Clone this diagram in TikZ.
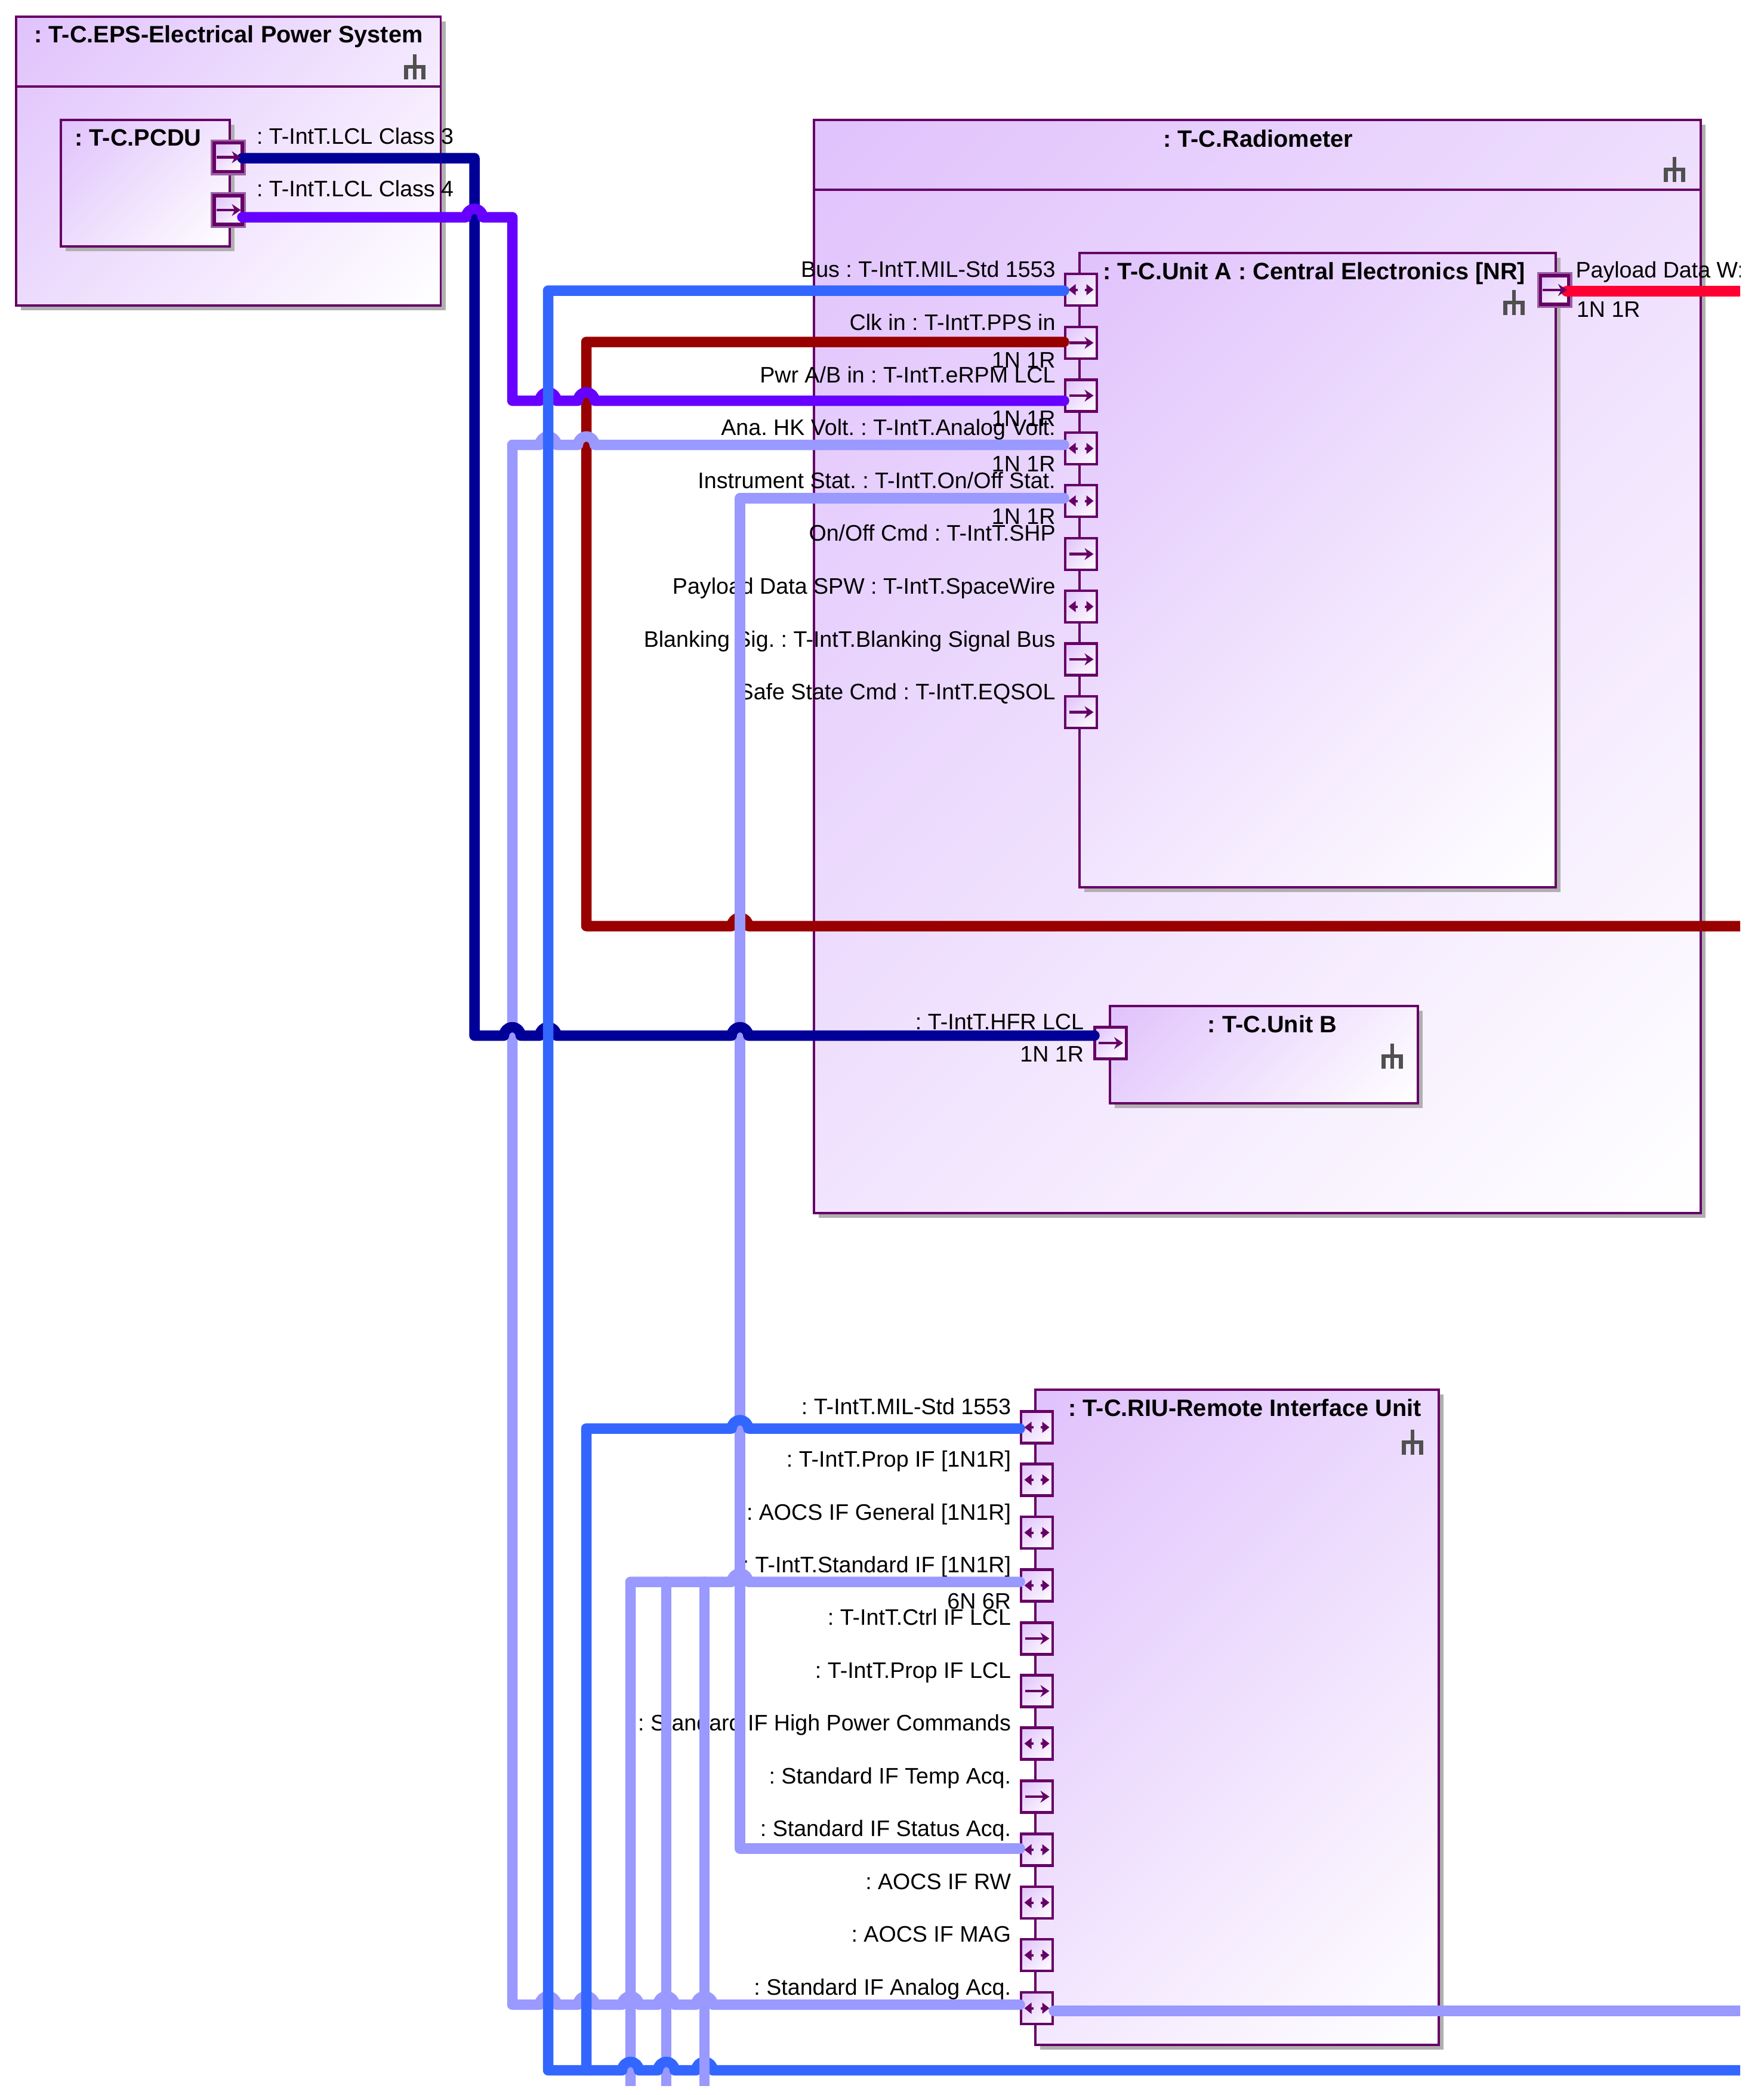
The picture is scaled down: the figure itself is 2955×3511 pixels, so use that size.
\documentclass[tikz,border=0pt]{standalone}
\usepackage{fontspec}
\setmainfont{Liberation Sans}
\usetikzlibrary{arrows.meta,calc}
\definecolor{gA}{HTML}{E0C2FC}
\definecolor{gB}{HTML}{FFFFFF}
\definecolor{edgeC}{HTML}{660066}
\definecolor{haloC}{HTML}{9A62A2}
\definecolor{shadowC}{HTML}{B0B0B0}
\definecolor{forkC}{HTML}{505050}
\definecolor{cDark}{HTML}{000099}
\definecolor{cViolet}{HTML}{6600FF}
\definecolor{cBlue}{HTML}{3366FF}
\definecolor{cLight}{HTML}{9999FF}
\definecolor{cRed}{HTML}{990000}
\definecolor{cPay}{HTML}{FF0033}
\pgfdeclarehorizontalshading{diaggrad}{100bp}{color(0bp)=(gA); color(32.32bp)=(gA); color(67.68bp)=(gB); color(100bp)=(gB)}
\tikzset{
  boxframe/.style={rectangle,draw=edgeC,line width=3.5pt,inner sep=0pt,outer sep=0pt},
  portframe/.style={rectangle,draw=edgeC,line width=4.5pt,inner sep=0pt,outer sep=0pt},
  portthick/.style={rectangle,draw=edgeC,line width=5.5pt,inner sep=0pt,outer sep=0pt},
  lbl/.style={font=\fontsize{37.6}{40}\selectfont,text=black,inner sep=0pt,outer sep=0pt},
  ttl/.style={font=\fontsize{39.7}{42}\selectfont\bfseries,text=black,inner sep=0pt,outer sep=0pt,anchor=base},
  wire/.style={line width=17.5pt,line cap=round,line join=round},
  parrow/.style={draw=edgeC,line width=4.5pt,-{Stealth[length=15pt,width=20pt,inset=5pt]}},
  pdouble/.style={draw=edgeC,line width=4pt,-{Stealth[length=12pt,width=18pt,inset=0pt]}},
  forkicon/.pic={
    \fill[forkC] (15,0) rectangle (20.5,42);
    \fill[forkC] (0,18) rectangle (35.5,24);
    \fill[forkC] (0,18) rectangle (6.5,42);
    \fill[forkC] (29,18) rectangle (35.5,42);
  }
}
\newcommand\gboxdraw[6]{%
  \pgfmathsetmacro\gbW{(#4)-(#2)}%
  \pgfmathsetmacro\gbH{(#5)-(#3)}%
  \pgfmathsetmacro\gbX{((#4)+(#2))/2}%
  \pgfmathsetmacro\gbY{((#5)+(#3))/2}%
  \pgfmathsetmacro\gbS{(\gbW+\gbH)/2}%
  \begin{scope}
    \clip (#2,#3) rectangle (#4,#5);
    \shade[shading=diaggrad,shading angle=-45] (\gbX-\gbS,\gbY-\gbS) rectangle (\gbX+\gbS,\gbY+\gbS);
  \end{scope}
  \node[#6,minimum width=\gbW pt,minimum height=\gbH pt] (#1) at (\gbX,\gbY) {};%
}
\newcommand\shadowrect[4]{\fill[shadowC] (#1+8,#2+8) rectangle (#3+8,#4+8);}
\newcommand\pport[3]{\gboxdraw{#1}{#2-26.5}{#3-26.5}{#2+26.5}{#3+26.5}{portframe}}
\newcommand\hport[3]{%
  \fill[haloC] (#2-29.5,#3-30) rectangle (#2+29.5,#3+30);
  \gboxdraw{#1}{#2-23.5}{#3-24}{#2+23.5}{#3+24}{portthick}}
\newcommand\arrR[1]{\draw[parrow] ([xshift=-20pt]#1.center) -- ([xshift=21pt]#1.center);}
\newcommand\arrB[1]{%
  \draw[pdouble] ([xshift=6pt]#1.center) -- ([xshift=21pt]#1.center);
  \draw[pdouble] ([xshift=-6pt]#1.center) -- ([xshift=-21pt]#1.center);}
\newcommand\hr[2]{-- (#1-14,#2) arc[start angle=180,end angle=360,radius=14]}
\newcommand\hl[2]{-- (#1+14,#2) arc[start angle=0,end angle=-180,radius=14]}
\begin{document}
\frenchspacing
\begin{tikzpicture}[x=1pt,y=-1pt]
\useasboundingbox (0,0) rectangle (2955,3511);
\fill[white] (0,0) rectangle (2955,3511);
\begin{scope}
\clip (0,0) rectangle (2916,3495.7);

% ---- boxes
\shadowrect{27}{28}{738.5}{512}
\gboxdraw{eps}{27}{28}{738.5}{512}{boxframe}
\draw[edgeC,line width=3.5pt] (eps.west |- 0,145) -- (eps.east |- 0,145);
\shadowrect{102}{201}{385}{413}
\gboxdraw{pcdu}{102}{201}{385}{413}{boxframe}

\shadowrect{1364}{201}{2850}{2033}
\gboxdraw{radio}{1364}{201}{2850}{2033}{boxframe}
\draw[edgeC,line width=3.5pt] (radio.west |- 0,318) -- (radio.east |- 0,318);
\shadowrect{1809}{424}{2607}{1487}
\gboxdraw{unitA}{1809}{424}{2607}{1487}{boxframe}
\shadowrect{1860}{1686}{2376}{1849}
\gboxdraw{unitB}{1860}{1686}{2376}{1849}{boxframe}
\shadowrect{1735}{2329}{2411}{3427}
\gboxdraw{riu}{1735}{2329}{2411}{3427}{boxframe}

% ---- fork icons
\pic at (677,91) {forkicon};
\pic at (2788,263) {forkicon};
\pic at (2519,486) {forkicon};
\pic at (2315,1749) {forkicon};
\pic at (2349,2396) {forkicon};

% ---- titles
\node[ttl] (tEps) at (383,72) {: T-C.EPS-Electrical Power System};
\node[ttl] (tPcdu) at (231.5,244) {: T-C.PCDU};
\node[ttl] (tRadio) at (2108,246) {: T-C.Radiometer};
\node[ttl] (tA) at (2202,468) {: T-C.Unit A : Central Electronics [NR]};
\node[ttl] (tB) at (2132,1730) {: T-C.Unit B};
\node[ttl] (tRiu) at (2086,2373) {: T-C.RIU-Remote Interface Unit};

% ---- ports
\hport{pP1}{382.5}{263.5}
\hport{pP2}{382.5}{352}
\hport{pPay}{2605}{486}
\pport{pA1}{1811.5}{485.5}
\pport{pA2}{1811.5}{574.5}
\pport{pA3}{1811.5}{663}
\pport{pA4}{1811.5}{751.5}
\pport{pA5}{1811.5}{839.5}
\pport{pA6}{1811.5}{928.5}
\pport{pA7}{1811.5}{1016.5}
\pport{pA8}{1811.5}{1105}
\pport{pA9}{1811.5}{1193.5}
\pport{pB}{1861}{1748}
\pport{pR1}{1737.5}{2392}
\pport{pR2}{1737.5}{2480}
\pport{pR3}{1737.5}{2568.5}
\pport{pR4}{1737.5}{2657}
\pport{pR5}{1737.5}{2746}
\pport{pR6}{1737.5}{2834}
\pport{pR7}{1737.5}{2922}
\pport{pR8}{1737.5}{3011}
\pport{pR9}{1737.5}{3100}
\pport{pR10}{1737.5}{3188.5}
\pport{pR11}{1737.5}{3276.5}
\pport{pR12}{1737.5}{3365.5}

% ---- port labels
\node[lbl,anchor=base west] (lP1) at (430,241) {: T-IntT.LCL Class 3};
\node[lbl,anchor=base west] (lP2) at (430,329) {: T-IntT.LCL Class 4};
\node[lbl,anchor=base west] (lPay) at (2640.5,465) {Payload Data W:};
\node[lbl,anchor=base west] (mPay) at (2642,531) {1N 1R};
\node[lbl,anchor=base east] (lA1) at (1768.5,464) {Bus : T-IntT.MIL-Std 1553};
\node[lbl,anchor=base east] (lA2) at (1768.5,553) {Clk in : T-IntT.PPS in};
\node[lbl,anchor=base east] (lA3) at (1768.5,641) {Pwr A/B in : T-IntT.eRPM LCL};
\node[lbl,anchor=base east] (lA4) at (1768.5,729) {Ana. HK Volt. : T-IntT.Analog Volt.};
\node[lbl,anchor=base east] (lA5) at (1768.5,818) {Instrument Stat. : T-IntT.On/Off Stat.};
\node[lbl,anchor=base east] (lA6) at (1768.5,906) {On/Off Cmd : T-IntT.SHP};
\node[lbl,anchor=base east] (lA7) at (1768.5,995) {Payload Data SPW : T-IntT.SpaceWire};
\node[lbl,anchor=base east] (lA8) at (1768.5,1084) {Blanking Sig. : T-IntT.Blanking Signal Bus};
\node[lbl,anchor=base east] (lA9) at (1768.5,1172) {Safe State Cmd : T-IntT.EQSOL};
\node[lbl,anchor=base east] (mA2) at (1768.5,616) {1N 1R};
\node[lbl,anchor=base east] (mA3) at (1768.5,714) {1N 1R};
\node[lbl,anchor=base east] (mA4) at (1768.5,790) {1N 1R};
\node[lbl,anchor=base east] (mA5) at (1768.5,878) {1N 1R};
\node[lbl,anchor=base east] (lB) at (1816,1725) {: T-IntT.HFR LCL};
\node[lbl,anchor=base east] (mB) at (1816,1779) {1N 1R};
\node[lbl,anchor=base east] (lR1) at (1694,2370) {: T-IntT.MIL-Std 1553};
\node[lbl,anchor=base east] (lR2) at (1694,2458) {: T-IntT.Prop IF [1N1R]};
\node[lbl,anchor=base east] (lR3) at (1694,2547) {: AOCS IF General [1N1R]};
\node[lbl,anchor=base east] (lR4) at (1694,2635) {: T-IntT.Standard IF [1N1R]};
\node[lbl,anchor=base east] (lR5) at (1694,2723) {: T-IntT.Ctrl IF LCL};
\node[lbl,anchor=base east] (lR6) at (1694,2812) {: T-IntT.Prop IF LCL};
\node[lbl,anchor=base east] (lR7) at (1694,2900) {: Standard IF High Power Commands};
\node[lbl,anchor=base east] (lR8) at (1694,2989) {: Standard IF Temp Acq.};
\node[lbl,anchor=base east] (lR9) at (1694,3077) {: Standard IF Status Acq.};
\node[lbl,anchor=base east] (lR10) at (1694,3166) {: AOCS IF RW};
\node[lbl,anchor=base east] (lR11) at (1694,3254) {: AOCS IF MAG};
\node[lbl,anchor=base east] (lR12) at (1694,3343) {: Standard IF Analog Acq.};
\node[lbl,anchor=base east] (mR4) at (1694,2696) {6N 6R};

% ---- connector waypoints
\coordinate (redBend) at (982.5,1552);
\coordinate (redEnd) at (2935,1552);
\coordinate (anaA) at (858.5,745.5);
\coordinate (anaB) at (858.5,3359.5);
\coordinate (statBend) at (1240,3098);
\coordinate (stdLeft) at (1056.5,2651);
\coordinate (stdLeftEnd) at (1056.5,3530);
\coordinate (stdMid) at (1116.5,2651);
\coordinate (stdMidEnd) at (1116.5,3530);
\coordinate (stdRight) at (1180.5,2651);
\coordinate (stdRightEnd) at (1180.5,3530);
\coordinate (darkBend) at (795,1735.5);
\coordinate (violetA) at (858.5,364);
\coordinate (violetB) at (858.5,671.5);
\coordinate (busBend) at (918.5,3469.5);
\coordinate (busEnd) at (2935,3469.5);
\coordinate (riuBusA) at (982.5,2394);
\coordinate (riuBusB) at (982.5,3469.5);
\coordinate (payEnd) at (2935,488);
\coordinate (anaEnd) at (2935,3370);

% ---- connectors, lowest first
\draw[wire,cRed] ([shift={(-2,-1.5)}]pA2.west) -| (redBend) \hr{1240}{1552} -- (redEnd);
\draw[wire,cLight] ([shift={(-2,-6)}]pA4.west) \hl{982.5}{745.5} \hl{918.5}{745.5} -- (anaA) -- (anaB)
   \hr{918.5}{3359.5} \hr{982.5}{3359.5} \hr{1056.5}{3359.5} \hr{1116.5}{3359.5} \hr{1180.5}{3359.5}
   -- ([shift={(-2,-6)}]pR12.west);
\draw[wire,cLight] ([shift={(-2,-4.5)}]pA5.west) -| (statBend) -- ([shift={(-2,-2)}]pR9.west);
\draw[wire,cLight] ([shift={(-2,-6)}]pR4.west) \hl{1240}{2651} -- (stdLeft) -- (stdLeftEnd);
\draw[wire,cLight] (stdMid) -- (stdMidEnd);
\draw[wire,cDark] ([shift={(0,1.5)}]pP1.east) -| (darkBend) \hr{858.5}{1735.5} \hr{918.5}{1735.5} \hr{1240}{1735.5} -- ([shift={(-0.5,-12.5)}]pB.west);
\draw[wire,cViolet] ([shift={(0,12)}]pP2.east) \hr{795}{364} -- (violetA) -- (violetB) \hr{918.5}{671.5} \hr{982.5}{671.5} -- ([shift={(-2,8.5)}]pA3.west);
\draw[wire,cBlue] ([shift={(-2,1.5)}]pA1.west) -| (busBend) \hr{1056.5}{3469.5} \hr{1116.5}{3469.5} \hr{1180.5}{3469.5} -- (busEnd);
\draw[wire,cBlue] ([shift={(-2,2)}]pR1.west) \hl{1240}{2394} -- (riuBusA) -- (riuBusB);
\draw[wire,cLight] (stdRight) -- (stdRightEnd);
\draw[wire,cPay] ([shift={(-3.5,2)}]pPay.east) -- (payEnd);
\draw[wire,cLight] ([shift={(2,4.5)}]pR12.east) -- (anaEnd);

% ---- port glyphs
\arrR{pP1}\arrR{pP2}\arrR{pPay}
\arrB{pA1}\arrR{pA2}\arrR{pA3}\arrB{pA4}\arrB{pA5}\arrR{pA6}\arrB{pA7}\arrR{pA8}\arrR{pA9}
\arrR{pB}
\arrB{pR1}\arrB{pR2}\arrB{pR3}\arrB{pR4}\arrR{pR5}\arrR{pR6}\arrB{pR7}\arrR{pR8}\arrB{pR9}\arrB{pR10}\arrB{pR11}\arrB{pR12}
\end{scope}
\end{tikzpicture}
\end{document}
